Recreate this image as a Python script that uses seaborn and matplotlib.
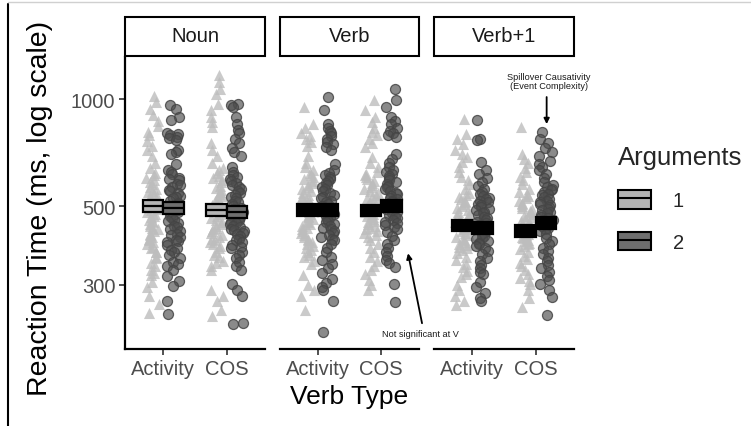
import numpy as np
import pandas as pd
import matplotlib
matplotlib.use("Agg")
import matplotlib.pyplot as plt
from matplotlib.lines import Line2D
from matplotlib.patches import Patch, Rectangle
from matplotlib.legend_handler import HandlerTuple
from matplotlib.ticker import NullLocator
import seaborn as sns

# Categories
panels = ["Noun", "Verb", "Verb+1"]
verb_types = ["Activity", "COS"]
arguments = ["1", "2"]

# Reaction times (ms)
noun_activity_1 = [1020, 980, 940, 900, 870, 840, 810, 790, 760, 740, 720, 690, 660, 640, 620, 612, 600,
                   590, 585, 575, 567, 560, 550, 547, 540, 533, 530, 520, 517, 510, 505, 502, 495, 490,
                   486, 480, 474, 470, 465, 458, 455, 450, 444, 440, 434, 430, 425, 418, 415, 408, 405,
                   400, 396, 390, 384, 380, 372, 370, 360, 356, 345, 338, 330, 325, 320, 305, 295, 280,
                   265, 250]
noun_activity_2 = [962, 937, 890, 873, 800, 795, 790, 782, 775, 768, 720, 708, 700, 656, 630, 622, 615,
                   600, 596, 590, 578, 572, 565, 555, 550, 545, 535, 530, 525, 515, 510, 505, 495, 492,
                   488, 480, 476, 470, 462, 458, 455, 448, 440, 436, 432, 425, 418, 414, 410, 402, 398,
                   395, 388, 380, 376, 372, 365, 356, 348, 344, 340, 330, 318, 308, 298, 271, 248]
noun_cos_1 = [1170, 1120, 1070, 1030, 970, 930, 890, 860, 835, 750, 720, 690, 660, 640, 630, 620, 608,
              600, 592, 585, 570, 562, 555, 548, 540, 532, 525, 518, 510, 504, 498, 492, 486, 480, 474,
              468, 462, 456, 450, 445, 440, 435, 430, 425, 420, 415, 410, 405, 400, 395, 390, 385, 380,
              370, 365, 360, 350, 345, 340, 330, 290, 280, 270, 255, 245]
noun_cos_2 = [968, 960, 950, 890, 850, 820, 800, 770, 750, 730, 710, 690, 645, 625, 610, 603, 595, 587,
              580, 572, 565, 558, 550, 543, 537, 530, 525, 518, 512, 506, 500, 495, 490, 485, 480, 475,
              470, 465, 460, 456, 452, 448, 444, 440, 436, 432, 428, 424, 420, 416, 412, 404, 400, 396,
              388, 384, 380, 372, 364, 356, 348, 340, 330, 302, 290, 280, 235, 233]

verb_activity_1 = [950, 850, 830, 800, 785, 770, 755, 740, 690, 660, 645, 630, 620, 610, 602, 595, 587,
                   580, 572, 565, 557, 550, 544, 538, 531, 525, 518, 512, 506, 500, 495, 490, 485, 480,
                   475, 470, 465, 460, 455, 450, 445, 440, 435, 430, 425, 420, 415, 410, 405, 400, 395,
                   390, 385, 380, 375, 370, 365, 360, 350, 343, 320, 300, 290, 280, 255]
verb_activity_2 = [1013, 931, 850, 830, 815, 800, 785, 770, 757, 747, 732, 718, 656, 630, 620, 610, 602,
                   595, 587, 580, 572, 565, 557, 550, 544, 538, 531, 525, 518, 512, 506, 500, 495, 490,
                   485, 480, 475, 470, 465, 460, 455, 450, 445, 440, 435, 430, 425, 420, 415, 410, 405,
                   400, 390, 380, 370, 360, 352, 343, 335, 325, 312, 303, 295, 290, 271, 221]
verb_cos_1 = [994, 931, 890, 860, 830, 810, 790, 770, 750, 732, 686, 660, 645, 625, 617, 610, 602, 595,
              587, 580, 572, 565, 557, 550, 544, 538, 531, 525, 518, 512, 506, 500, 495, 490, 485, 480,
              475, 470, 465, 460, 455, 450, 445, 440, 435, 430, 425, 420, 415, 410, 400, 390, 380, 370,
              360, 350, 340, 330, 321, 310, 300, 290]
verb_cos_2 = [1067, 994, 950, 890, 870, 850, 830, 815, 800, 790, 781, 700, 680, 660, 645, 630, 622, 615,
              607, 600, 592, 585, 577, 570, 564, 558, 551, 545, 539, 533, 527, 522, 517, 512, 507, 502,
              497, 492, 487, 482, 477, 472, 467, 462, 457, 452, 447, 442, 437, 432, 422, 412, 402, 392,
              382, 372, 362, 352, 345, 337, 302, 268]

verb1_activity_1 = [879, 797, 770, 745, 720, 700, 686, 665, 645, 625, 605, 590, 575, 560, 545, 537, 530,
                    524, 518, 512, 506, 500, 494, 488, 482, 476, 470, 465, 460, 455, 450, 445, 440, 435,
                    430, 425, 420, 415, 410, 405, 400, 396, 392, 388, 384, 380, 376, 368, 360, 352, 344,
                    336, 328, 321, 315, 300, 290, 280, 270, 263]
verb1_activity_2 = [873, 771, 765, 665, 631, 615, 600, 585, 570, 558, 546, 540, 534, 528, 522, 517, 512,
                    507, 502, 497, 492, 487, 482, 477, 472, 467, 462, 457, 452, 447, 443, 439, 434, 430,
                    425, 421, 416, 412, 407, 403, 398, 394, 390, 386, 382, 374, 366, 358, 350, 342, 334,
                    326, 321, 305, 295, 285, 275, 271]
verb1_cos_1 = [834, 700, 680, 660, 640, 625, 605, 590, 575, 560, 546, 539, 532, 525, 518, 511, 505, 500,
               495, 490, 485, 480, 475, 470, 465, 460, 455, 450, 445, 440, 436, 432, 427, 423, 418, 414,
               410, 406, 402, 398, 394, 390, 386, 378, 370, 362, 354, 346, 338, 330, 322, 314, 308, 302,
               290, 275, 260]
verb1_cos_2 = [807, 770, 750, 730, 710, 690, 670, 655, 645, 630, 615, 600, 585, 572, 566, 560, 554, 548,
               542, 536, 530, 524, 518, 512, 507, 502, 497, 492, 487, 482, 477, 472, 467, 462, 457, 452,
               448, 443, 438, 434, 430, 425, 416, 407, 398, 390, 382, 374, 366, 358, 350, 342, 334, 326,
               318, 309, 302, 290, 277, 246]

# Crossbars: mean RT and half height (log10), order Activity-1, Activity-2, COS-1, COS-2
noun_means = [499, 495, 487, 482]
verb_means = [487, 487, 486, 500]
verb1_means = [441, 434, 425, 449]
noun_half = [0.017, 0.017, 0.017, 0.017]
verb_half = [0.017, 0.017, 0.016, 0.017]
verb1_half = [0.016, 0.016, 0.016, 0.017]

groups = {
    ("Noun", "Activity", "1"): noun_activity_1, ("Noun", "Activity", "2"): noun_activity_2,
    ("Noun", "COS", "1"): noun_cos_1, ("Noun", "COS", "2"): noun_cos_2,
    ("Verb", "Activity", "1"): verb_activity_1, ("Verb", "Activity", "2"): verb_activity_2,
    ("Verb", "COS", "1"): verb_cos_1, ("Verb", "COS", "2"): verb_cos_2,
    ("Verb+1", "Activity", "1"): verb1_activity_1, ("Verb+1", "Activity", "2"): verb1_activity_2,
    ("Verb+1", "COS", "1"): verb1_cos_1, ("Verb+1", "COS", "2"): verb1_cos_2,
}
rows = []
for (region, vt, arg), vals in groups.items():
    for v in vals:
        rows.append({"Region": region, "VerbType": vt, "Arguments": arg, "RT": v})
df = pd.DataFrame(rows)

means = {"Noun": noun_means, "Verb": verb_means, "Verb+1": verb1_means}
halves = {"Noun": noun_half, "Verb": verb_half, "Verb+1": verb1_half}
bar_fill = {"Noun": ["#b4b4b4", "#6e6e6e"], "Verb": ["black", "black"], "Verb+1": ["black", "black"]}

sns.set_style("white")
plt.rcParams["font.family"] = ["Liberation Sans", "DejaVu Sans"]

np.random.seed(3)
fig, axes = plt.subplots(1, 3, figsize=(7.51, 4.27), dpi=100, sharey=True)
fig.subplots_adjust(left=125 / 751, right=574 / 751, bottom=1 - 350 / 427, top=1 - 58 / 427, wspace=0.104)


def squeeze_dodge(colls, face, edge=None):
    # tighter dodge like ggplot's position_jitterdodge
    for coll in colls:
        offs = coll.get_offsets()
        if len(offs) == 0:
            continue
        c = np.round(offs[:, 0])
        offs[:, 0] = c + (offs[:, 0] - c) * 0.8
        coll.set_offsets(offs)
        coll.set_facecolor(face)
        if edge is not None:
            coll.set_edgecolor(edge)


for ax, region in zip(axes, panels):
    sub = df[df["Region"] == region]
    n0 = len(ax.collections)
    sns.stripplot(data=sub[sub["Arguments"] == "1"], x="VerbType", y="RT", hue="Arguments",
                  order=verb_types, hue_order=arguments, dodge=True, jitter=0.27,
                  palette={"1": "#bdbdbd", "2": "#4d4d4d"}, marker="^", size=8,
                  linewidth=0, legend=False, ax=ax)
    n1 = len(ax.collections)
    squeeze_dodge(ax.collections[n0:n1], (0.74, 0.74, 0.74, 0.8))
    sns.stripplot(data=sub[sub["Arguments"] == "2"], x="VerbType", y="RT", hue="Arguments",
                  order=verb_types, hue_order=arguments, dodge=True, jitter=0.27,
                  palette={"1": "#bdbdbd", "2": "#4d4d4d"}, marker="o", size=7.2,
                  linewidth=0.9, edgecolor="#4a4a4a", legend=False, ax=ax)
    squeeze_dodge(ax.collections[n1:], (0.30, 0.30, 0.30, 0.66), (0.27, 0.27, 0.27, 0.85))

    # mean crossbars
    for i in range(len(verb_types)):
        for j in range(len(arguments)):
            m = means[region][2 * i + j]
            h = halves[region][2 * i + j]
            xpos = i + (j - 0.5) * 0.32
            lo, hi = m / 10 ** h, m * 10 ** h
            ax.bar(xpos, hi - lo, bottom=lo, width=0.32, facecolor=bar_fill[region][j],
                   edgecolor="black", linewidth=1.6, zorder=5)
            ax.hlines(m, xpos - 0.16, xpos + 0.16, color="black", linewidth=1.6, zorder=6)

    ax.set_yscale("log")
    ax.set_ylim(198, 1313)
    ax.set_xlim(-0.6, 1.6)
    ax.set_yticks([300, 500, 1000])
    ax.set_yticklabels(["300", "500", "1000"])
    ax.yaxis.set_minor_locator(NullLocator())
    ax.set_xlabel("")
    ax.set_ylabel("")
    ax.grid(False)
    ax.patch.set_visible(False)
    for s in ["top", "right"]:
        ax.spines[s].set_visible(False)
    ax.spines["bottom"].set_color("black")
    ax.spines["bottom"].set_linewidth(1.6)
    ax.spines["left"].set_color("black")
    ax.spines["left"].set_linewidth(1.6)
    ax.tick_params(axis="both", colors="#333333", labelcolor="#4d4d4d", labelsize=14.5,
                   length=4, width=1.2, pad=3, direction="out", bottom=True, left=True)

    # facet strip
    ax.add_patch(Rectangle((0, 1 + 1 / 292), 1, 39 / 292, transform=ax.transAxes,
                           facecolor="white", edgecolor="black", linewidth=1.5, clip_on=False))
    ax.text(0.5, 1 + 21 / 292, region, transform=ax.transAxes, ha="center", va="center",
            fontsize=14.5, color="#1a1a1a")

for ax in axes[1:]:
    ax.spines["left"].set_visible(False)
    ax.tick_params(axis="y", left=False, labelleft=False)

# annotations
axes[2].annotate("", xy=(1.17, 850), xytext=(1.17, 1013),
                 arrowprops=dict(arrowstyle="-|>", color="black", lw=1.3, mutation_scale=8,
                                 shrinkA=0, shrinkB=0), annotation_clip=False)
axes[2].text(1.2, 1124, "Spillover Causativity\n(Event Complexity)", ha="center", va="center",
             fontsize=6.6, color="#1a1a1a", linespacing=1.1, clip_on=False)
axes[1].annotate("", xy=(1.42, 368), xytext=(1.64, 234),
                 arrowprops=dict(arrowstyle="-|>", color="black", lw=1.3, mutation_scale=8,
                                 shrinkA=0, shrinkB=0), annotation_clip=False, zorder=10)
axes[1].text(1.61, 219, "Not significant at V", ha="center", va="center",
             fontsize=6.6, color="#1a1a1a", clip_on=False, zorder=10)

# axis titles
fig.text(40 / 751, 1 - 208 / 427, "Reaction Time (ms, log scale)", rotation=90,
         ha="center", va="center", fontsize=20.5, color="black")
fig.text(349.5 / 751, 1 - 397 / 427, "Verb Type", ha="center", va="center", fontsize=19, color="black")

# legend
mid = Line2D([], [], color="black", linewidth=1.5)
handles = [(Patch(facecolor="#b4b4b4", edgecolor="black", linewidth=1.5), mid),
           (Patch(facecolor="#6e6e6e", edgecolor="black", linewidth=1.5), mid)]
fig.legend(handles, arguments, title="Arguments", loc="upper left",
           bbox_to_anchor=(600 / 751, 1 - 128 / 427), frameon=False, fontsize=14.5,
           title_fontsize=18.5, handlelength=1.65, handleheight=1.05, labelspacing=1.05,
           handletextpad=1.05, alignment="left", handler_map={tuple: HandlerTuple(ndivide=1)})

# frame remnants of the source screenshot
fig.add_artist(Line2D([8 / 751, 8 / 751], [0, 1 - 5 / 427], transform=fig.transFigure,
                      color="black", linewidth=1.5))
fig.add_artist(Line2D([8 / 751, 1], [1 - 3 / 427, 1 - 3 / 427], transform=fig.transFigure,
                      color="#d0d0d0", linewidth=1))

fig.savefig("out.png", dpi=100)
